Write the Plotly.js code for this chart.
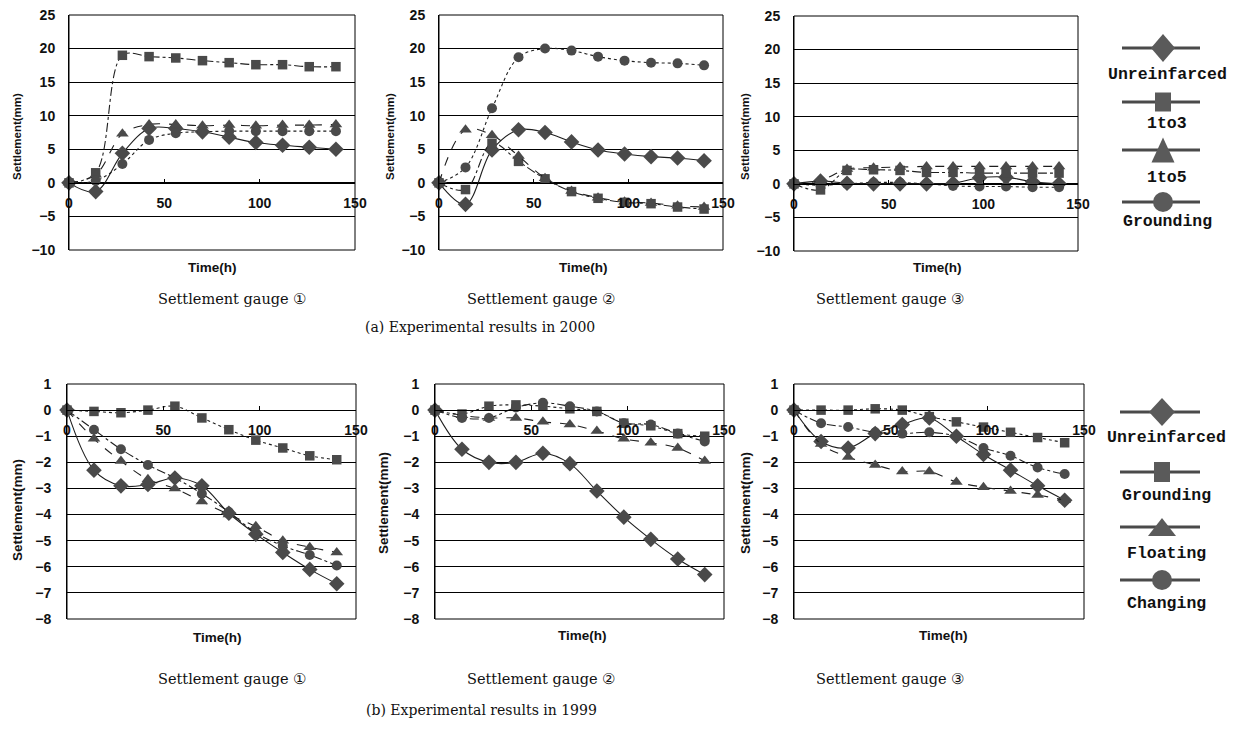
<!DOCTYPE html>
<html><head><meta charset="utf-8">
<script src="https://cdn.plot.ly/plotly-3.0.1.min.js"></script>
<style>html,body{margin:0;padding:0;background:#fff}#chart{width:1242px;height:733px}</style>
</head><body><div id="chart"></div>
<script>
// ---------- DATA ----------
const timeHours = [0, 14, 28, 42, 56, 70, 84, 98, 112, 126, 140];
const xTickVals = [0, 50, 100, 150];
const names2000 = ['Unreinfarced', '1to3', '1to5', 'Grounding'];
const names1999 = ['Unreinfarced', 'Grounding', 'Floating', 'Changing'];
const gaugeLabels = ['Settlement gauge \u2460', 'Settlement gauge \u2461', 'Settlement gauge \u2462'];
const caption2000 = '(a) Experimental results in 2000';
const caption1999 = '(b) Experimental results in 1999';

// 2000, gauge 1
const y2000g1Unreinf = [0, -1.3, 4.4, 8.1, 8.1, 7.6, 6.8, 6.0, 5.6, 5.3, 5.0];
const y2000g1OneToThree = [0, 1.5, 19.0, 18.8, 18.6, 18.2, 17.9, 17.6, 17.6, 17.3, 17.3];
const y2000g1OneToFive = [0, 1.2, 7.3, 8.7, 8.7, 8.5, 8.6, 8.5, 8.6, 8.6, 8.7];
const y2000g1Grounding = [0, 0.3, 2.8, 6.4, 7.4, 7.6, 7.7, 7.7, 7.7, 7.7, 7.7];
// 2000, gauge 2
const y2000g2Unreinf = [0, -3.2, 4.9, 7.9, 7.5, 6.1, 4.9, 4.3, 3.9, 3.7, 3.3];
const y2000g2OneToThree = [0, -1.0, 5.9, 3.2, 0.6, -1.3, -2.3, -2.9, -3.1, -3.6, -3.9];
const y2000g2OneToFive = [0, 7.9, 7.1, 4.0, 0.7, -1.2, -2.2, -2.8, -3.0, -3.4, -3.6];
const y2000g2Grounding = [0, 2.3, 11.1, 18.7, 20.0, 19.7, 18.8, 18.2, 17.9, 17.8, 17.5];
// 2000, gauge 3
const y2000g3Unreinf = [0, 0.4, 0.1, 0.0, 0.0, 0.0, 0.1, 0.9, 1.0, 0.3, 0.0];
const y2000g3OneToThree = [0, -0.9, 2.0, 2.1, 2.0, 1.7, 1.7, 1.6, 1.6, 1.6, 1.6];
const y2000g3OneToFive = [0, 0.5, 2.2, 2.4, 2.5, 2.6, 2.6, 2.6, 2.6, 2.6, 2.6];
const y2000g3Grounding = [0, -0.2, 0.0, 0.2, 0.2, 0.0, -0.3, -0.4, -0.4, -0.5, -0.5];
// 1999, gauge 1
const y1999g1Unreinf = [0, -2.3, -2.9, -2.85, -2.6, -2.9, -3.95, -4.75, -5.45, -6.1, -6.65];
const y1999g1Grounding = [0, -0.05, -0.1, 0.0, 0.15, -0.3, -0.75, -1.15, -1.45, -1.75, -1.9];
const y1999g1Floating = [0, -1.1, -1.95, -2.65, -3.0, -3.5, -4.0, -4.45, -5.0, -5.25, -5.45];
const y1999g1Changing = [0, -0.75, -1.5, -2.1, -2.6, -3.2, -3.9, -4.7, -5.2, -5.55, -5.95];
// 1999, gauge 2
const y1999g2Unreinf = [0, -1.5, -2.0, -2.0, -1.65, -2.05, -3.1, -4.1, -4.95, -5.7, -6.3];
const y1999g2Grounding = [0, -0.15, 0.15, 0.2, 0.15, 0.05, -0.05, -0.5, -0.6, -0.9, -1.0];
const y1999g2Floating = [0, -0.2, -0.3, -0.3, -0.45, -0.55, -0.8, -1.1, -1.25, -1.45, -1.95];
const y1999g2Changing = [0, -0.3, -0.3, 0.1, 0.28, 0.15, -0.05, -0.5, -0.55, -0.9, -1.2];
// 1999, gauge 3
const y1999g3Unreinf = [0, -1.2, -1.45, -0.9, -0.55, -0.3, -1.0, -1.7, -2.3, -2.9, -3.45];
const y1999g3Grounding = [0, 0.0, 0.0, 0.05, 0.0, -0.25, -0.45, -0.65, -0.85, -1.05, -1.25];
const y1999g3Floating = [0, -1.3, -1.8, -2.1, -2.35, -2.35, -2.75, -2.95, -3.1, -3.25, -3.45];
const y1999g3Changing = [0, -0.5, -0.65, -0.85, -0.9, -0.85, -1.0, -1.45, -1.75, -2.2, -2.45];

// ---------- LAYOUT HELPERS ----------
const W = 1242, H = 733;
const PX = x => x / W;
const PY = y => 1 - y / H;

const panels = [
  {box: [69, 15, 355, 250], yr: [-10, 25], dt: 5, ys: [y2000g1Unreinf, y2000g1OneToThree, y2000g1OneToFive, y2000g1Grounding], names: names2000, top: true},
  {box: [439, 15, 723, 250], yr: [-10, 25], dt: 5, ys: [y2000g2Unreinf, y2000g2OneToThree, y2000g2OneToFive, y2000g2Grounding], names: names2000, top: true},
  {box: [794, 16, 1078, 251], yr: [-10, 25], dt: 5, ys: [y2000g3Unreinf, y2000g3OneToThree, y2000g3OneToFive, y2000g3Grounding], names: names2000, top: true},
  {box: [67, 384, 356, 619], yr: [-8, 1], dt: 1, ys: [y1999g1Unreinf, y1999g1Grounding, y1999g1Floating, y1999g1Changing], names: names1999, top: false},
  {box: [435, 384, 724, 619], yr: [-8, 1], dt: 1, ys: [y1999g2Unreinf, y1999g2Grounding, y1999g2Floating, y1999g2Changing], names: names1999, top: false},
  {box: [794, 384, 1084, 619], yr: [-8, 1], dt: 1, ys: [y1999g3Unreinf, y1999g3Grounding, y1999g3Floating, y1999g3Changing], names: names1999, top: false}
];

const symbols = ['diamond', 'square', 'triangle-up', 'circle'];
const msizes = [12, 9.5, 11, 10];
const dashTop = ['solid', 'dashdot', 'dash', 'dot'];
const dashBottom = ['solid', 'dot', 'dash', 'dashdot'];
const markerColor = '#4a4a4a';
const lineColor = '#1e1e1e';
const axisFont = {family: 'Liberation Sans, Arial, sans-serif', size: 14, color: '#111', weight: 'bold'};

const traces = [];
const layout = {
  width: W, height: H,
  margin: {l: 0, r: 0, t: 0, b: 0},
  paper_bgcolor: '#fff', plot_bgcolor: '#fff',
  showlegend: false,
  shapes: [], annotations: []
};

panels.forEach((p, i) => {
  const n = i + 1;
  const xa = 'xaxis' + (n === 1 ? '' : n), ya = 'yaxis' + (n === 1 ? '' : n);
  const xid = 'x' + (n === 1 ? '' : n), yid = 'y' + (n === 1 ? '' : n);
  const [x0, y0, x1, y1] = p.box;
  const zeroPx = y0 + (p.yr[1] / (p.yr[1] - p.yr[0])) * (y1 - y0);
  layout[xa] = {
    domain: [PX(x0), PX(x1)], range: [0, 150], anchor: 'free', position: PY(zeroPx),
    tickvals: xTickVals, ticks: 'inside', ticklen: 4, tickcolor: '#000',
    showline: true, linecolor: '#000', linewidth: 1, showgrid: false, zeroline: false,
    tickfont: axisFont, ticklabelstandoff: 7, fixedrange: true
  };
  const tv = [];
  for (let v = p.yr[0]; v <= p.yr[1]; v += p.dt) tv.push(v);
  layout[ya] = {
    domain: [PY(y1), PY(y0)], range: p.yr, anchor: xid, tickvals: tv,
    showgrid: true, gridcolor: '#000', gridwidth: 1, zeroline: false,
    showline: true, linecolor: '#000', ticks: '', tickfont: axisFont,
    ticklabelstandoff: p.top ? 10 : 12, fixedrange: true
  };
  layout.shapes.push({type: 'rect', xref: xid + ' domain', yref: yid + ' domain', x0: 0, x1: 1, y0: 0, y1: 1, line: {color: '#000', width: 1}});
  const dashes = p.top ? dashTop : dashBottom;
  p.ys.forEach((ys, k) => {
    traces.push({
      type: 'scatter', mode: 'lines+markers', x: timeHours, y: ys, name: p.names[k],
      xaxis: xid, yaxis: yid, cliponaxis: false,
      line: {color: lineColor, width: 1.1, dash: dashes[k], shape: 'spline', smoothing: 1},
      marker: {symbol: symbols[k], size: msizes[k], color: markerColor, line: {width: 0}}
    });
  });
});

// axis titles
const yTitleX = [17, 390, 745, 17, 383, 745];
const yTitleY = [137, 137, 137, 510, 503, 503];
const xTitlePos = [[212, 267], [583, 267], [937, 267], [217, 637], [582, 635], [943, 635]];
panels.forEach((p, i) => {
  layout.annotations.push({
    xref: 'paper', yref: 'paper', x: PX(yTitleX[i]), y: PY(yTitleY[i]), text: 'Settlement(mm)',
    textangle: -90, showarrow: false, xanchor: 'center', yanchor: 'middle',
    font: {family: 'Liberation Sans, Arial, sans-serif', size: p.top ? 11.5 : 13.5, color: '#111', weight: 'bold'}
  });
  layout.annotations.push({
    xref: 'paper', yref: 'paper', x: PX(xTitlePos[i][0]), y: PY(xTitlePos[i][1]), text: 'Time(h)',
    showarrow: false, xanchor: 'center', yanchor: 'middle',
    font: {family: 'Liberation Sans, Arial, sans-serif', size: 13.5, color: '#111', weight: 'bold'}
  });
});

// captions
const serifFont = {family: 'DejaVu Serif, Liberation Serif, serif', size: 14.5, color: '#111'};
const capX = [232, 541, 890];
gaugeLabels.forEach((t, i) => {
  layout.annotations.push({xref: 'paper', yref: 'paper', x: PX(capX[i]), y: PY(299), text: t, showarrow: false, xanchor: 'center', yanchor: 'middle', font: serifFont});
  layout.annotations.push({xref: 'paper', yref: 'paper', x: PX(capX[i]), y: PY(679), text: t, showarrow: false, xanchor: 'center', yanchor: 'middle', font: serifFont});
});
layout.annotations.push({xref: 'paper', yref: 'paper', x: PX(480), y: PY(327), text: caption2000, showarrow: false, xanchor: 'center', yanchor: 'middle', font: {...serifFont, size: 14}});
layout.annotations.push({xref: 'paper', yref: 'paper', x: PX(481), y: PY(710), text: caption1999, showarrow: false, xanchor: 'center', yanchor: 'middle', font: {...serifFont, size: 14}});

// custom legends
function legendItem(names, lineYs, textYs, cx, lx0, lx1, sizes) {
  names.forEach((nm, k) => {
    const ly = lineYs[k];
    layout.shapes.push({type: 'line', xref: 'paper', yref: 'paper', x0: PX(lx0), x1: PX(lx1), y0: PY(ly), y1: PY(ly), line: {color: '#4a4a4a', width: 3}});
    const [w, h] = sizes[k];
    const fill = '#5a5a5a';
    let shp;
    if (k === 0) {
      shp = {type: 'path', path: `M ${PX(cx)} ${PY(ly - h)} L ${PX(cx + w)} ${PY(ly)} L ${PX(cx)} ${PY(ly + h)} L ${PX(cx - w)} ${PY(ly)} Z`};
    } else if (k === 1) {
      shp = {type: 'rect', x0: PX(cx - w), x1: PX(cx + w), y0: PY(ly - h), y1: PY(ly + h)};
    } else if (k === 2) {
      shp = {type: 'path', path: `M ${PX(cx)} ${PY(ly - h)} L ${PX(cx + w)} ${PY(ly + h)} L ${PX(cx - w)} ${PY(ly + h)} Z`};
    } else {
      shp = {type: 'circle', x0: PX(cx - w), x1: PX(cx + w), y0: PY(ly - h), y1: PY(ly + h)};
    }
    layout.shapes.push(Object.assign(shp, {xref: 'paper', yref: 'paper', fillcolor: fill, line: {width: 0}}));
    layout.annotations.push({xref: 'paper', yref: 'paper', x: PX(cx + 4), y: PY(textYs[k]), text: nm, showarrow: false, xanchor: 'center', yanchor: 'middle',
      font: {family: 'Liberation Mono, Courier New, monospace', size: 16.5, color: '#111', weight: 'bold'}});
  });
}
legendItem(names2000, [48, 102, 150, 202], [75, 123, 178, 221], 1163, 1122, 1200, [[12, 14], [8, 9.5], [11.5, 12.5], [10, 10]]);
legendItem(names1999, [412, 472, 527, 580], [437, 495, 553, 603], 1162, 1120, 1200, [[13, 14], [8, 10], [14, 9], [10, 10]]);

Plotly.newPlot('chart', traces, layout, {staticPlot: true, displayModeBar: false});
</script></body></html>
